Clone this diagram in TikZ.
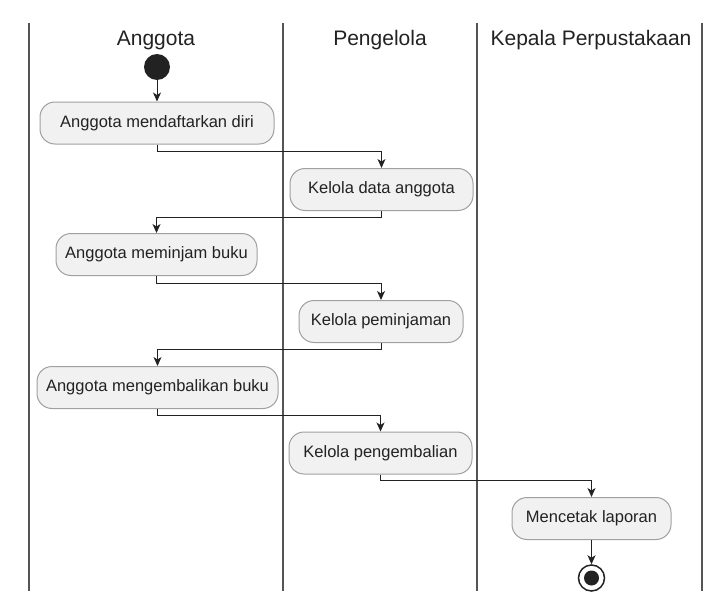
\documentclass[tikz,border=0pt]{standalone}
\usepackage{fontspec}
\setmainfont{Liberation Sans}
\usetikzlibrary{arrows.meta}
\definecolor{boxfill}{HTML}{F1F1F1}
\definecolor{boxline}{HTML}{A0A0A0}
\definecolor{ink}{HTML}{222222}
\definecolor{lane}{HTML}{555555}
\begin{document}
\begin{tikzpicture}[x=1pt,y=-1pt,
  act/.style={draw=boxline, fill=boxfill, line width=1pt, rounded corners=15pt,
    minimum height=42pt, inner xsep=7pt, inner ysep=0pt,
    font=\fontsize{16.5}{20}\selectfont, text=ink},
  hdr/.style={font=\fontsize{21}{25}\selectfont, text=ink, anchor=base},
  flow/.style={draw=ink, line width=1pt, -{Stealth[length=9pt,width=8pt,inset=2.5pt]}},
  lanel/.style={draw=lane, line width=1.8pt}]
\useasboundingbox (0,0) rectangle (715,594);
% swimlanes
\coordinate (l1t) at (29,23); \coordinate (l1b) at (29,591);
\coordinate (l2t) at (283,23); \coordinate (l2b) at (283,591);
\coordinate (l3t) at (477,23); \coordinate (l3b) at (477,591);
\coordinate (l4t) at (702,23); \coordinate (l4b) at (702,591);
\draw[lanel] (l1t) -- (l1b);
\draw[lanel] (l2t) -- (l2b);
\draw[lanel] (l3t) -- (l3b);
\draw[lanel] (l4t) -- (l4b);
% headers
\node[hdr] (h1) at (156,46) {Anggota};
\node[hdr] (h2) at (380,46) {Pengelola};
\node[hdr] (h3) at (591,46) {Kepala Perpustakaan};
% nodes
\node[circle, fill=ink, minimum size=26pt, inner sep=0pt] (start) at (157,67) {};
\node[act, minimum width=234pt] (b1) at (157,123) {Anggota mendaftarkan diri};
\node[act, minimum width=183pt] (b2) at (381.5,189.5) {Kelola data anggota};
\node[act, minimum width=201pt] (b3) at (156.5,254.5) {Anggota meminjam buku};
\node[act, minimum width=164pt] (b4) at (381,321.5) {Kelola peminjaman};
\node[act, minimum width=241pt] (b5) at (157.5,387.5) {Anggota mengembalikan buku};
\node[act, minimum width=183pt] (b6) at (380.5,453) {Kelola pengembalian};
\node[act, minimum width=159pt] (b7) at (591.5,518.5) {Mencetak laporan};
\node[circle, draw=ink, fill=white, line width=1.5pt, minimum size=26pt, inner sep=0pt] (stop) at (591.5,578) {};
\node[circle, fill=ink, minimum size=15pt, inner sep=0pt] (stopin) at (stop.center) {};
% flows
\draw[flow] (start) -- (b1);
\draw[flow] (b1.south) -- ++(0,7) -| (b2.north);
\draw[flow] (b2.south) -- ++(0,6) -| (b3.north);
\draw[flow] (b3.south) -- ++(0,7) -| (b4.north);
\draw[flow] (b4.south) -- ++(0,6) -| (b5.north);
\draw[flow] (b5.south) -- ++(0,6) -| (b6.north);
\draw[flow] (b6.south) -- ++(0,6) -| (b7.north);
\draw[flow] (b7) -- (stop);
\end{tikzpicture}
\end{document}
